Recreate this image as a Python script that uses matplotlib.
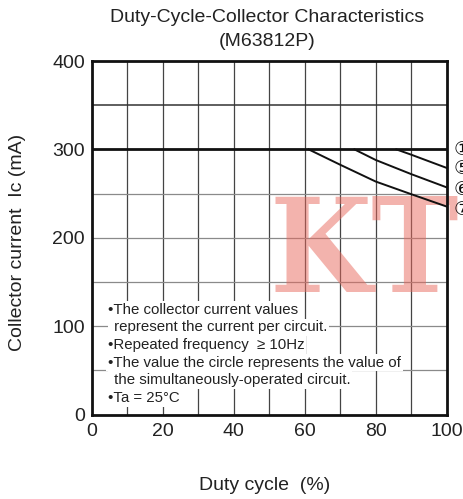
import matplotlib
matplotlib.use("Agg")
import matplotlib.pyplot as plt

plt.rcParams['font.family'] = ['Liberation Sans', 'DejaVu Sans']

# Data
duty_1 = [0, 100]
ic_1 = [300, 300]
duty_5 = [85.8, 90, 100]
ic_5 = [300, 294, 279]
duty_6 = [74, 80, 90, 100]
ic_6 = [300, 288, 272, 257]
duty_7 = [61.1, 70, 80, 90, 100]
ic_7 = [300, 282.6, 263.6, 249.3, 235.3]

curve_labels = ['①', '⑤', '⑥', '⑦']
label_y = [300, 278, 255, 232]

x_ticks = [0, 20, 40, 60, 80, 100]
y_ticks = [0, 100, 200, 300, 400]

notes = [
    ("•The collector current values", 0),
    (" represent the current per circuit.", 1),
    ("•Repeated frequency  ≥ 10Hz", 0),
    ("•The value the circle represents the value of", 0),
    (" the simultaneously-operated circuit.", 1),
    ("•Ta = 25°C", 0),
]
note_rows_px = [310, 327.5, 345, 362.5, 380, 398]

W, H = 464, 499
fig = plt.figure(figsize=(W/100, H/100), dpi=100)
ax = fig.add_axes([91.7/W, 1-414.5/H, 355/W, 353.5/H])
ax.set_xlim(0, 100)
ax.set_ylim(0, 400)

# grid
for xv in range(10, 100, 10):
    ax.axvline(xv, color='#444444', lw=0.9, zorder=1)
for yv in [50, 100, 150, 200, 250, 350]:
    c = '#333333' if yv == 350 else '#8a8a8a'
    ax.axhline(yv, color=c, lw=1.1 if yv == 350 else 0.9, zorder=1)

ax.plot(duty_1, ic_1, color='#111111', lw=2.0, zorder=3, solid_capstyle='butt')
ax.plot(duty_5, ic_5, color='#111111', lw=1.4, zorder=3)
ax.plot(duty_6, ic_6, color='#111111', lw=1.4, zorder=3)
ax.plot(duty_7, ic_7, color='#111111', lw=1.4, zorder=3)

for lab, yv in zip(curve_labels, label_y):
    ax.text(101.8, yv, lab, fontsize=14, va='center', ha='left', zorder=4,
            family=['DejaVu Sans'], clip_on=False, color='#111111')

# notes
for (txt, ind), ypx in zip(notes, note_rows_px):
    yd = (414.5 - ypx) / (353.5/400)
    xd = (108 - 91.7) / 3.55 + (0.6 if ind else 0)
    ax.text(xd, yd, txt, fontsize=10.8, va='center', ha='left', color='#222222', zorder=4,
            bbox=dict(facecolor='white', edgecolor='none', pad=1.2))

# watermark (above grid, below curves)
ax.text(270/W, 1-292/H, 'KT', fontsize=94, family='DejaVu Serif', weight='bold',
        fontstretch='condensed', transform=fig.transFigure, clip_on=False,
        color='#e8685c', alpha=0.5, ha='left', va='baseline', zorder=2)

for s in ax.spines.values():
    s.set_linewidth(2.0)
    s.set_color('#111111')
    s.set_zorder(6)

ax.set_xticks(x_ticks)
ax.set_yticks(y_ticks)
ax.tick_params(length=0, labelsize=14, colors='#222222', pad=6)
ax.tick_params(axis='y', pad=5)

fig.text(267/W, 1-18/H, 'Duty-Cycle-Collector Characteristics', ha='center', va='center', fontsize=14, color='#222222')
fig.text(267/W, 1-42/H, '(M63812P)', ha='center', va='center', fontsize=14, color='#222222')
fig.text(265/W, 1-486/H, 'Duty cycle  (%)', ha='center', va='center', fontsize=14, color='#222222')
fig.text(18/W, 1-242/H, 'Collector current  Ic (mA)', ha='center', va='center', fontsize=14, rotation=90, color='#222222')

fig.savefig('out.png', dpi=100)
